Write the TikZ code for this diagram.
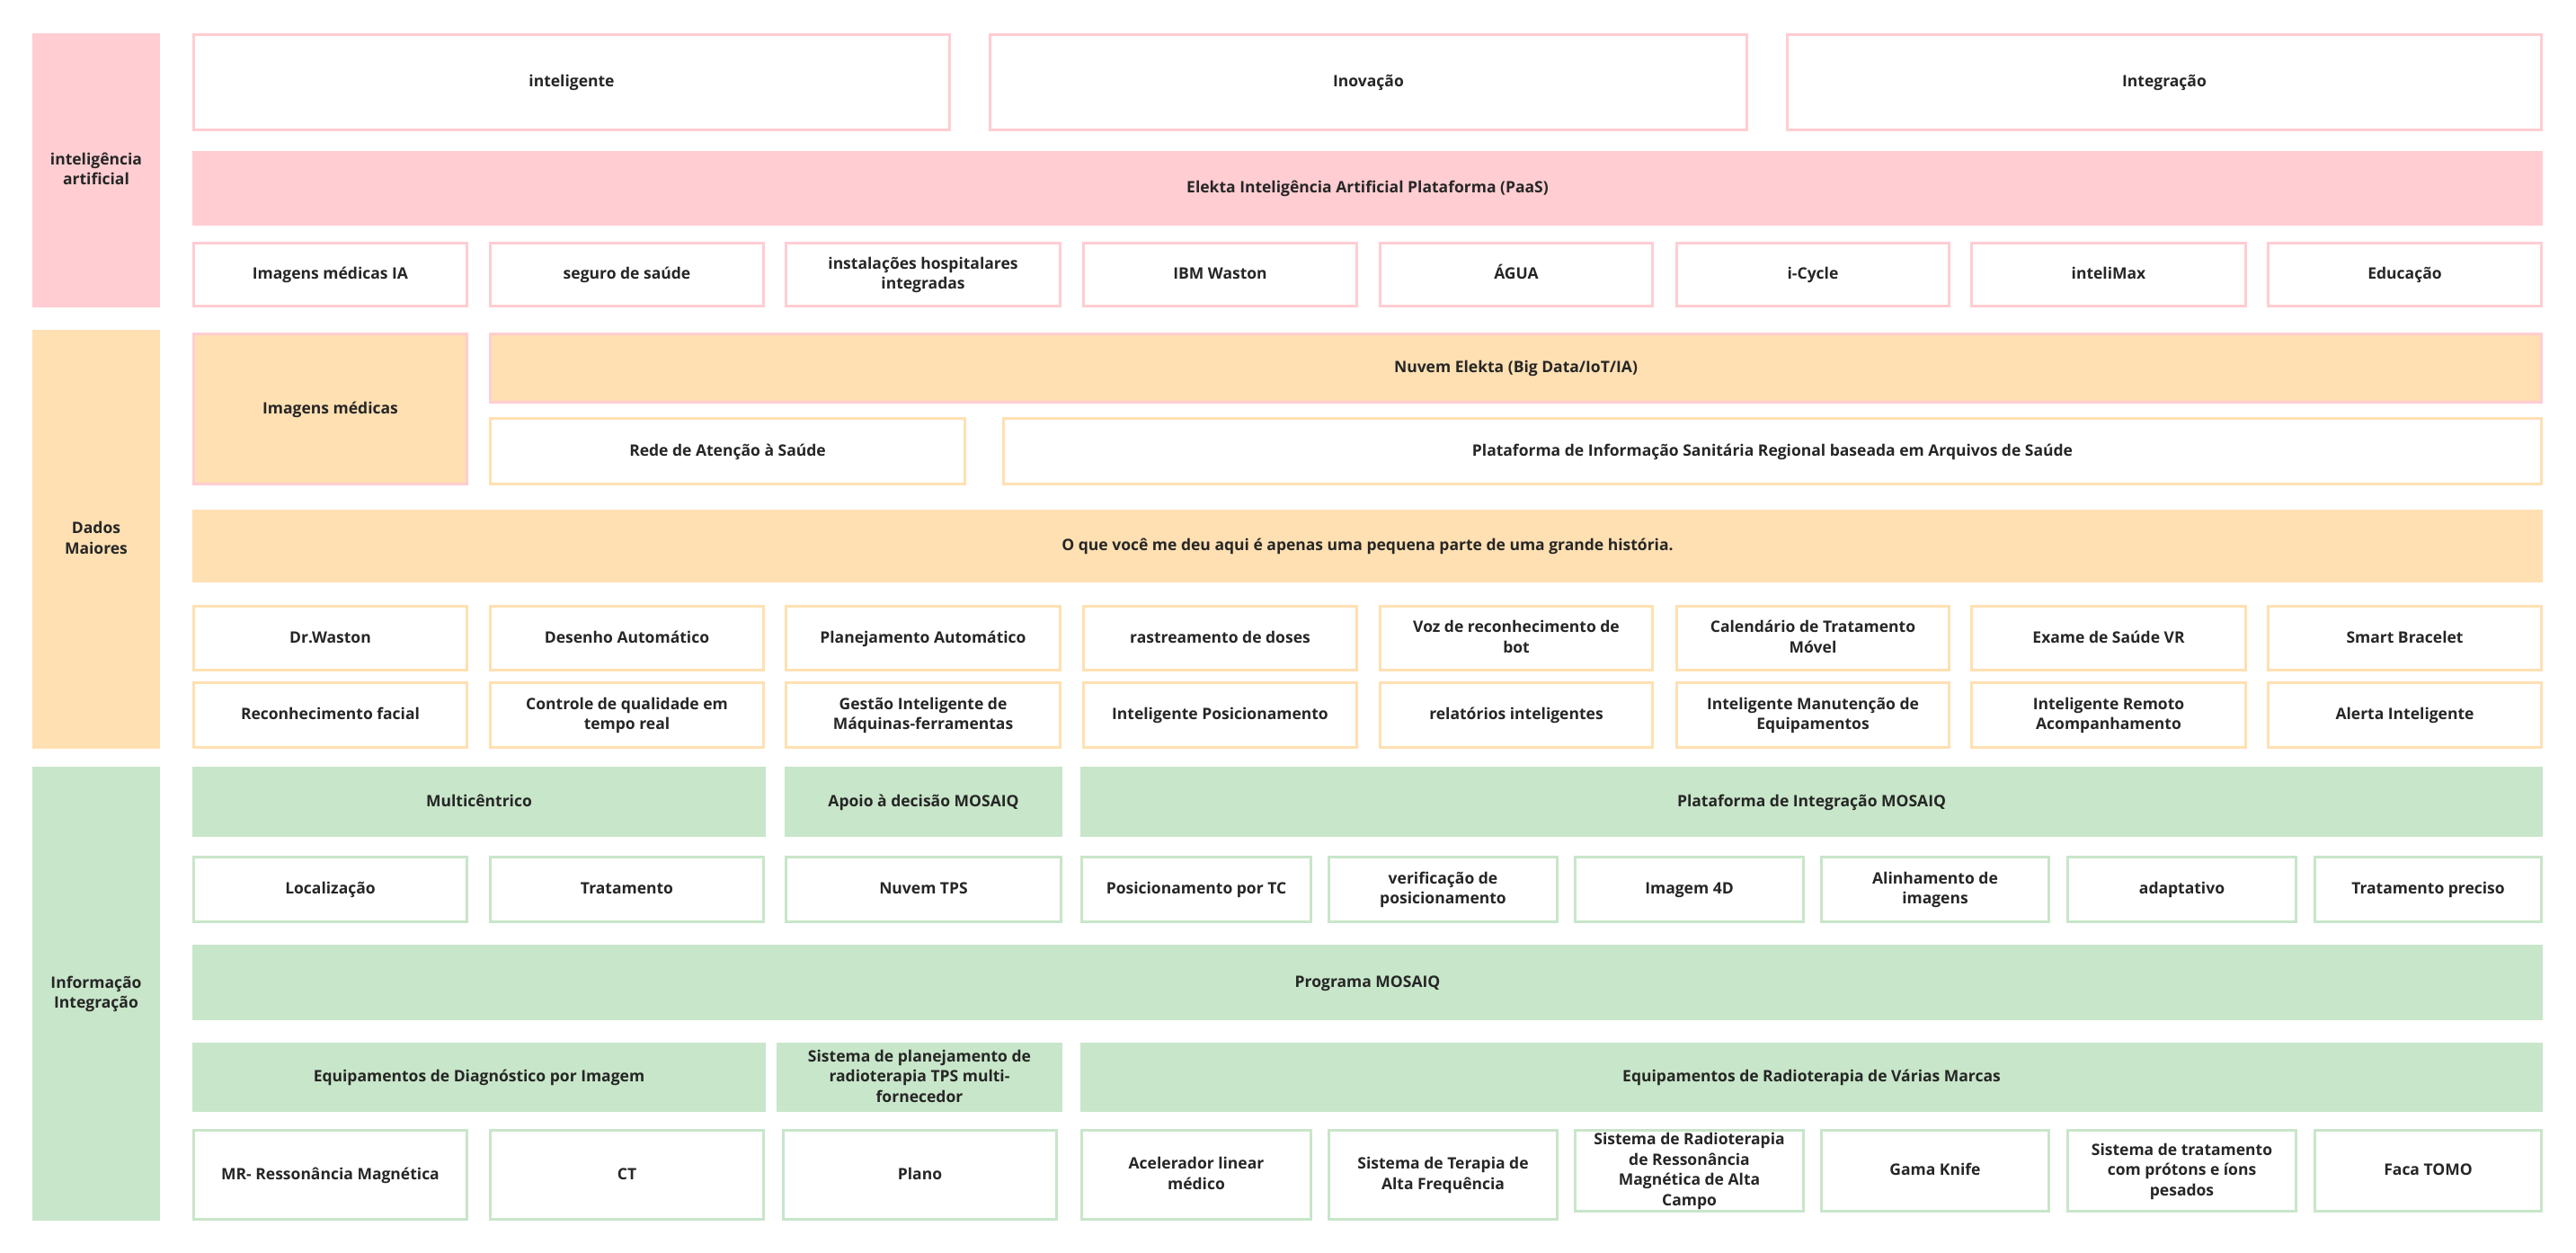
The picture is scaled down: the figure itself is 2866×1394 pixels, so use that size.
\documentclass[tikz,border=0pt]{standalone}
\usepackage{fontspec}
\setmainfont{Open Sans}
\definecolor{pinkF}{HTML}{FFCDD2}
\definecolor{orangeF}{HTML}{FFE0B2}
\definecolor{greenF}{HTML}{C8E6C9}
\definecolor{txt}{HTML}{262626}
\tikzset{
  base/.style={rectangle, inner sep=0pt, outer sep=0pt, line width=3pt,
    text=txt, font=\fontsize{17.5}{22.5}\selectfont\bfseries},
  wpink/.style={base, fill=white, draw=pinkF},
  wora/.style={base, fill=white, draw=orangeF},
  wgreen/.style={base, fill=white, draw=greenF},
  fpink/.style={base, fill=pinkF, draw=pinkF},
  fora/.style={base, fill=orangeF, draw=orangeF},
  forap/.style={base, fill=orangeF, draw=pinkF},
  fgreen/.style={base, fill=greenF, draw=greenF},
}
\newcommand\bx[7]{%
  \pgfmathsetmacro\bxcx{(#2+#4)/2}\pgfmathsetmacro\bxcy{-(#3+#5)/2}%
  \pgfmathsetmacro\bxww{#4-#2-3}\pgfmathsetmacro\bxhh{#5-#3-3}%
  \node[#6, minimum width=\bxww pt, minimum height=\bxhh pt] (#1) at (\bxcx pt,\bxcy pt)
    {\raisebox{-5pt}[0pt][0pt]{\begin{tabular}{@{}c@{}}#7\end{tabular}}};}
\begin{document}
\begin{tikzpicture}[x=1pt,y=1pt]
\useasboundingbox (0,0) rectangle (2866,-1394);
\fill[white] (0,0) rectangle (2866,-1394);
% ---------- Inteligência artificial ----------
\bx{catAI}{36}{37}{178}{342}{fpink}{intelig\^encia\\artificial}
\bx{top1}{214}{37}{1058}{146}{wpink}{inteligente}
\bx{top2}{1100}{37}{1945}{146}{wpink}{Inovação}
\bx{top3}{1987}{37}{2829}{146}{wpink}{Integração}
\bx{elekta}{214}{168}{2829}{251}{fpink}{Elekta Inteligência Artificial Plataforma (PaaS)}
\bx{ai1}{214}{269}{521}{342}{wpink}{Imagens médicas IA}
\bx{ai2}{544}{269}{851}{342}{wpink}{seguro de saúde}
\bx{ai3}{873}{269}{1181}{342}{wpink}{instalações hospitalares\\integradas}
\bx{ai4}{1204}{269}{1511}{342}{wpink}{IBM Waston}
\bx{ai5}{1534}{269}{1840}{342}{wpink}{ÁGUA}
\bx{ai6}{1864}{269}{2170}{342}{wpink}{i-Cycle}
\bx{ai7}{2192}{269}{2500}{342}{wpink}{inteliMax}
\bx{ai8}{2522}{269}{2829}{342}{wpink}{Educação}
% ---------- Dados Maiores ----------
\bx{catD}{36}{367}{178}{833}{fora}{Dados\\Maiores}
\bx{imgmed}{214}{370}{521}{540}{forap}{Imagens médicas}
\bx{nuvem}{544}{370}{2829}{449}{forap}{Nuvem Elekta (Big Data/IoT/IA)}
\bx{rede}{544}{464}{1075}{540}{wora}{Rede de Atenção à Saúde}
\bx{plat}{1115}{464}{2829}{540}{wora}{Plataforma de Informação Sanitária Regional baseada em Arquivos de Saúde}
\bx{oque}{214}{567}{2829}{648}{fora}{O que você me deu aqui é apenas uma pequena parte de uma grande história.}
\bx{da1}{214}{673}{521}{747}{wora}{Dr.Waston}
\bx{da2}{544}{673}{851}{747}{wora}{Desenho Automático}
\bx{da3}{873}{673}{1181}{747}{wora}{Planejamento Automático}
\bx{da4}{1204}{673}{1511}{747}{wora}{rastreamento de doses}
\bx{da5}{1534}{673}{1840}{747}{wora}{Voz de reconhecimento de\\bot}
\bx{da6}{1864}{673}{2170}{747}{wora}{Calendário de Tratamento\\Móvel}
\bx{da7}{2192}{673}{2500}{747}{wora}{Exame de Saúde VR}
\bx{da8}{2522}{673}{2829}{747}{wora}{Smart Bracelet}
\bx{db1}{214}{758}{521}{833}{wora}{Reconhecimento facial}
\bx{db2}{544}{758}{851}{833}{wora}{Controle de qualidade em\\tempo real}
\bx{db3}{873}{758}{1181}{833}{wora}{Gestão Inteligente de\\Máquinas-ferramentas}
\bx{db4}{1204}{758}{1511}{833}{wora}{Inteligente Posicionamento}
\bx{db5}{1534}{758}{1840}{833}{wora}{relatórios inteligentes}
\bx{db6}{1864}{758}{2170}{833}{wora}{Inteligente Manutenção de\\Equipamentos}
\bx{db7}{2192}{758}{2500}{833}{wora}{Inteligente Remoto\\Acompanhamento}
\bx{db8}{2522}{758}{2829}{833}{wora}{Alerta Inteligente}
% ---------- Informação Integração ----------
\bx{catI}{36}{853}{178}{1358}{fgreen}{Informação\\Integração}
\bx{multi}{214}{853}{852}{931}{fgreen}{Multicêntrico}
\bx{apoio}{873}{853}{1182}{931}{fgreen}{Apoio à decisão MOSAIQ}
\bx{platint}{1202}{853}{2829}{931}{fgreen}{Plataforma de Integração MOSAIQ}
\bx{ia1}{214}{952}{521}{1027}{wgreen}{Localização}
\bx{ia2}{544}{952}{851}{1027}{wgreen}{Tratamento}
\bx{ia3}{873}{952}{1182}{1027}{wgreen}{Nuvem TPS}
\bx{ia4}{1202}{952}{1460}{1027}{wgreen}{Posicionamento por TC}
\bx{ia5}{1477}{952}{1734}{1027}{wgreen}{verificação de\\posicionamento}
\bx{ia6}{1751}{952}{2008}{1027}{wgreen}{Imagem 4D}
\bx{ia7}{2025}{952}{2281}{1027}{wgreen}{Alinhamento de\\imagens}
\bx{ia8}{2299}{952}{2556}{1027}{wgreen}{adaptativo}
\bx{ia9}{2574}{952}{2829}{1027}{wgreen}{Tratamento preciso}
\bx{prog}{214}{1051}{2829}{1135}{fgreen}{Programa MOSAIQ}
\bx{eqd}{214}{1160}{852}{1237}{fgreen}{Equipamentos de Diagnóstico por Imagem}
\bx{tps}{864}{1160}{1182}{1237}{fgreen}{Sistema de planejamento de\\radioterapia TPS multi-\\fornecedor}
\bx{eqr}{1202}{1160}{2829}{1237}{fgreen}{Equipamentos de Radioterapia de Várias Marcas}
\bx{ib1}{214}{1256}{521}{1358}{wgreen}{MR- Ressonância Magnética}
\bx{ib2}{544}{1256}{851}{1358}{wgreen}{CT}
\bx{ib3}{870}{1256}{1177}{1358}{wgreen}{Plano}
\bx{ib4}{1202}{1256}{1460}{1358}{wgreen}{Acelerador linear\\médico}
\bx{ib5}{1477}{1256}{1734}{1358}{wgreen}{Sistema de Terapia de\\Alta Frequência}
\bx{ib6}{1751}{1256}{2008}{1349}{wgreen}{Sistema de Radioterapia\\de Ressonância\\Magnética de Alta\\Campo}
\bx{ib7}{2025}{1256}{2281}{1349}{wgreen}{Gama Knife}
\bx{ib8}{2299}{1256}{2556}{1349}{wgreen}{Sistema de tratamento\\com prótons e íons\\pesados}
\bx{ib9}{2574}{1256}{2829}{1349}{wgreen}{Faca TOMO}
\end{tikzpicture}
\end{document}
